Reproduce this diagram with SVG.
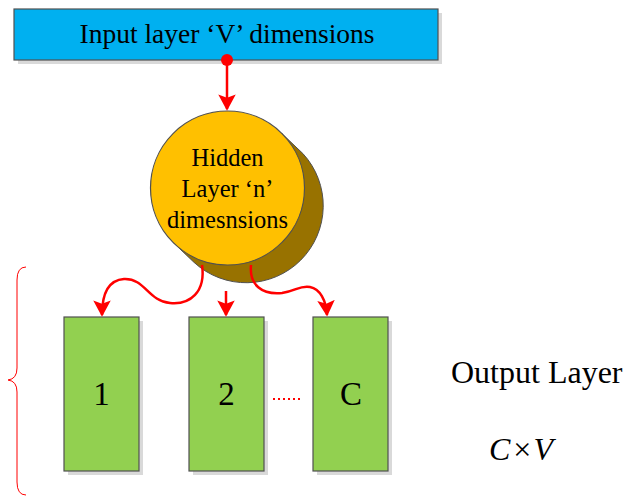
<svg xmlns="http://www.w3.org/2000/svg" width="630" height="496" viewBox="0 0 630 496">
<defs>
<style>
.t{font-family:"Liberation Serif","Times New Roman",serif;fill:#000}
.box{stroke:#505050;stroke-width:1.2}
.sh{fill:#D9D9D9}
.conn{fill:none;stroke:#FF0000;stroke-width:2.5}
</style>
<marker id="ah" viewBox="0 0 10 10" refX="9" refY="5" markerWidth="6.5" markerHeight="7" markerUnits="strokeWidth" orient="auto" preserveAspectRatio="none">
<path d="M0,0 L10,5 L0,10 L2,5 Z" fill="#FF0000"/>
</marker>
</defs>
<rect width="630" height="496" fill="#fff"/>
<g id="input">
<rect class="sh" x="18" y="13" width="424" height="51"/>
<rect class="box" x="14" y="9" width="424" height="51" fill="#00B0F0"/>
<text class="t" x="227" y="43" font-size="27.5" text-anchor="middle">Input layer ‘V’ dimensions</text>
</g>
<g id="hidden">
<path d="M281.9,133.6 L302.9,153.6 A77,77 0 0 1 194.1,262.4 L173.1,242.4 Z" fill="#987200" stroke="#505050" stroke-width="1"/>
<circle cx="227.5" cy="188" r="77" fill="#FFC000" stroke="#505050" stroke-width="1.2"/>
<text class="t" font-size="24.5" text-anchor="middle"><tspan x="227.5" y="166">Hidden</tspan><tspan x="227.5" y="197">Layer ‘n’</tspan><tspan x="227.5" y="228">dimesnsions</tspan></text>
</g>
<g id="out1">
<rect class="sh" x="68" y="321" width="75" height="154"/>
<rect class="box" x="64" y="317" width="75" height="154" fill="#92D050"/>
<text class="t" x="101.5" y="405" font-size="33" text-anchor="middle">1</text>
</g>
<g id="out2">
<rect class="sh" x="193" y="321" width="75" height="154"/>
<rect class="box" x="189" y="317" width="75" height="154" fill="#92D050"/>
<text class="t" x="226.5" y="405" font-size="33" text-anchor="middle">2</text>
</g>
<g id="outC">
<rect class="sh" x="317" y="321" width="75" height="154"/>
<rect class="box" x="313" y="317" width="75" height="154" fill="#92D050"/>
<text class="t" x="351" y="405" font-size="33" text-anchor="middle">C</text>
</g>
<g id="labels">
<text class="t" x="451" y="383" font-size="32">Output Layer</text>
<text class="t" x="489" y="460" font-size="32"><tspan font-style="italic">C</tspan><tspan dx="3">×</tspan><tspan dx="2" font-style="italic">V</tspan></text>
<path d="M26,267 Q17,267 17,280 L17,368 Q17,379 8,380 Q17,381 17,392 L17,482 Q17,495 26,495" fill="none" stroke="#FF0000" stroke-width="1"/>
<line x1="273" y1="399" x2="301" y2="399" stroke="#FF0000" stroke-width="2" stroke-dasharray="2,3"/>
</g>
<g id="connectors">
<circle cx="227" cy="60" r="6" fill="#FF0000"/>
<path class="conn" d="M227,60 L227,109" marker-end="url(#ah)"/>
<path class="conn" d="M202,265 C206,292 190,305 170,303 C148,301 145,278 124,279 C110,280 102,292 102,315" marker-end="url(#ah)"/>
<path class="conn" d="M226,291 L226,315" marker-end="url(#ah)"/>
<path class="conn" d="M251,265 C249,285 262,295 282,293 C296,291 300,285 310,287 C320,289 326,300 327,315" marker-end="url(#ah)"/>
</g>
</svg>
